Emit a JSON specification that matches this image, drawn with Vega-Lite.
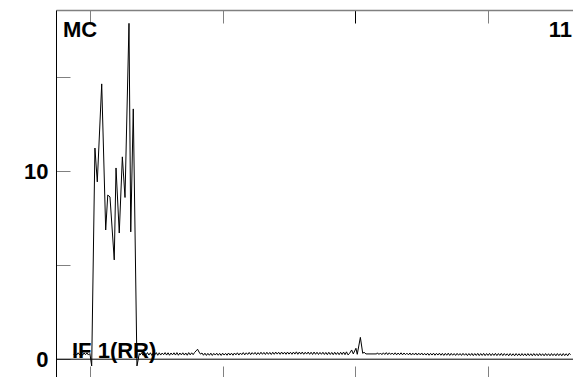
{
  "$schema": "https://vega.github.io/schema/vega-lite/v6.json",
  "autosize": {"type": "none"},
  "padding": {"left": 56, "top": 10, "right": 0, "bottom": 0},
  "width": 517,
  "height": 367,
  "config": {
    "view": {"stroke": null},
    "font": "Liberation Sans",
    "axis": {"labelFont": "Liberation Sans", "grid": false, "title": null}
  },
  "datasets": {
    "signal": [
      {"x":12,"y":0.25},{"x":13,"y":0.33},{"x":14,"y":0.22},{"x":15,"y":0.34},{"x":16,"y":0.23},{"x":17,"y":0.35},{"x":18,"y":0.21},{"x":19,"y":0.33},{"x":20,"y":0.24},{"x":21,"y":0.34},{"x":22,"y":0.22},{"x":23,"y":0.3},
      {"x":24.2,"y":-0.36},{"x":26.4,"y":11.23},{"x":28,"y":9.43},{"x":31,"y":14.64},{"x":33.7,"y":6.87},{"x":35.1,"y":8.73},{"x":36.6,"y":8.63},{"x":39.5,"y":5.28},{"x":40.7,"y":10.17},{"x":42.9,"y":6.71},{"x":45,"y":10.76},{"x":46.8,"y":8.6},{"x":49.5,"y":17.86},{"x":50.7,"y":6.77},{"x":52.4,"y":13.31},{"x":54.9,"y":-0.36},{"x":56.5,"y":0.3},
      {"x":57,"y":0.22},{"x":58,"y":0.34},{"x":59,"y":0.21},{"x":60,"y":0.33},{"x":61,"y":0.23},{"x":62,"y":0.35},{"x":63,"y":0.22},{"x":64,"y":0.34},{"x":65,"y":0.2},{"x":66,"y":0.33},{"x":67,"y":0.23},{"x":68,"y":0.35},{"x":69,"y":0.21},{"x":70,"y":0.34},{"x":71,"y":0.22},{"x":72,"y":0.33},{"x":73,"y":0.24},{"x":74,"y":0.35},{"x":75,"y":0.22},{"x":76,"y":0.34},{"x":77,"y":0.21},{"x":78,"y":0.33},{"x":79,"y":0.23},{"x":80,"y":0.34},{"x":81,"y":0.22},{"x":82,"y":0.35},{"x":83,"y":0.21},{"x":84,"y":0.33},{"x":85,"y":0.23},{"x":86,"y":0.34},{"x":87,"y":0.22},{"x":88,"y":0.33},{"x":89,"y":0.21},{"x":90,"y":0.35},{"x":91,"y":0.23},{"x":92,"y":0.34},{"x":93,"y":0.24},{"x":94,"y":0.36},{"x":95,"y":0.44},{"x":96,"y":0.53},{"x":97,"y":0.38},{"x":98,"y":0.27},{"x":99,"y":0.33},
      {"x":100,"y":0.21},{"x":101,"y":0.32},{"x":102,"y":0.2},{"x":103,"y":0.31},{"x":104,"y":0.21},{"x":105,"y":0.32},{"x":106,"y":0.2},{"x":107,"y":0.31},{"x":108,"y":0.22},{"x":109,"y":0.32},{"x":110,"y":0.21},{"x":111,"y":0.31},{"x":112,"y":0.2},{"x":113,"y":0.32},{"x":114,"y":0.22},{"x":115,"y":0.31},{"x":116,"y":0.21},{"x":117,"y":0.33},{"x":118,"y":0.22},{"x":119,"y":0.32},{"x":120,"y":0.21},{"x":121,"y":0.33},{"x":122,"y":0.23},{"x":123,"y":0.34},{"x":124,"y":0.22},{"x":125,"y":0.33},{"x":126,"y":0.24},{"x":127,"y":0.35},{"x":128,"y":0.23},{"x":129,"y":0.34},{"x":130,"y":0.25},{"x":131,"y":0.36},{"x":132,"y":0.24},{"x":133,"y":0.35},{"x":134,"y":0.26},{"x":135,"y":0.36},{"x":136,"y":0.24},{"x":137,"y":0.35},{"x":138,"y":0.25},{"x":139,"y":0.37},{"x":140,"y":0.26},{"x":141,"y":0.36},{"x":142,"y":0.25},{"x":143,"y":0.37},{"x":144,"y":0.26},{"x":145,"y":0.36},{"x":146,"y":0.25},{"x":147,"y":0.37},{"x":148,"y":0.26},{"x":149,"y":0.38},
      {"x":150,"y":0.27},{"x":151,"y":0.37},{"x":152,"y":0.26},{"x":153,"y":0.38},{"x":154,"y":0.27},{"x":155,"y":0.37},{"x":156,"y":0.26},{"x":157,"y":0.38},{"x":158,"y":0.27},{"x":159,"y":0.37},{"x":160,"y":0.26},{"x":161,"y":0.38},{"x":162,"y":0.27},{"x":163,"y":0.39},{"x":164,"y":0.26},{"x":165,"y":0.38},{"x":166,"y":0.27},{"x":167,"y":0.38},{"x":168,"y":0.26},{"x":169,"y":0.37},{"x":170,"y":0.27},{"x":171,"y":0.38},{"x":172,"y":0.26},{"x":173,"y":0.37},{"x":174,"y":0.25},{"x":175,"y":0.38},{"x":176,"y":0.26},{"x":177,"y":0.37},{"x":178,"y":0.25},{"x":179,"y":0.36},{"x":180,"y":0.26},{"x":181,"y":0.37},{"x":182,"y":0.25},{"x":183,"y":0.36},{"x":184,"y":0.24},{"x":185,"y":0.37},{"x":186,"y":0.25},{"x":187,"y":0.36},{"x":188,"y":0.24},{"x":189,"y":0.37},{"x":190,"y":0.25},{"x":191,"y":0.36},{"x":192,"y":0.24},{"x":193,"y":0.37},{"x":194,"y":0.25},{"x":195,"y":0.38},{"x":196,"y":0.24},{"x":197,"y":0.39},{"x":198,"y":0.23},{"x":199,"y":0.3},
      {"x":200.5,"y":0.49},{"x":201.6,"y":0.28},{"x":203.4,"y":0.58},{"x":204.3,"y":0.26},{"x":206.4,"y":1.16},{"x":208,"y":0.31},{"x":208.9,"y":0.37},{"x":210.2,"y":0.28},{"x":217.5,"y":0.28},
      {"x":218,"y":0.34},{"x":219,"y":0.25},{"x":220,"y":0.33},{"x":221,"y":0.24},{"x":222,"y":0.34},{"x":223,"y":0.25},{"x":224,"y":0.35},{"x":225,"y":0.24},{"x":226,"y":0.34},{"x":227,"y":0.25},{"x":228,"y":0.33},{"x":229,"y":0.24},{"x":230,"y":0.34},{"x":231,"y":0.23},{"x":232,"y":0.33},{"x":233,"y":0.24},{"x":234,"y":0.34},{"x":235,"y":0.23},{"x":236,"y":0.33},{"x":237,"y":0.24},{"x":238,"y":0.32},{"x":239,"y":0.23},{"x":240,"y":0.33},{"x":241,"y":0.22},{"x":242,"y":0.32},{"x":243,"y":0.23},{"x":244,"y":0.33},{"x":245,"y":0.22},{"x":246,"y":0.32},{"x":247,"y":0.23},{"x":248,"y":0.33},{"x":249,"y":0.22},
      {"x":250,"y":0.31},{"x":251,"y":0.22},{"x":252,"y":0.32},{"x":253,"y":0.21},{"x":254,"y":0.31},{"x":255,"y":0.22},{"x":256,"y":0.32},{"x":257,"y":0.21},{"x":258,"y":0.31},{"x":259,"y":0.22},{"x":260,"y":0.32},{"x":261,"y":0.21},{"x":262,"y":0.31},{"x":263,"y":0.2},{"x":264,"y":0.31},{"x":265,"y":0.21},{"x":266,"y":0.32},{"x":267,"y":0.2},{"x":268,"y":0.31},{"x":269,"y":0.21},{"x":270,"y":0.3},{"x":271,"y":0.2},{"x":272,"y":0.31},{"x":273,"y":0.21},{"x":274,"y":0.3},{"x":275,"y":0.2},{"x":276,"y":0.31},{"x":277,"y":0.21},{"x":278,"y":0.3},{"x":279,"y":0.19},{"x":280,"y":0.3},{"x":281,"y":0.2},{"x":282,"y":0.31},{"x":283,"y":0.19},{"x":284,"y":0.3},{"x":285,"y":0.2},{"x":286,"y":0.31},{"x":287,"y":0.19},{"x":288,"y":0.3},{"x":289,"y":0.2},{"x":290,"y":0.31},{"x":291,"y":0.19},{"x":292,"y":0.3},{"x":293,"y":0.2},{"x":294,"y":0.31},{"x":295,"y":0.19},{"x":296,"y":0.3},{"x":297,"y":0.2},{"x":298,"y":0.31},{"x":299,"y":0.19},
      {"x":300,"y":0.3},{"x":301,"y":0.2},{"x":302,"y":0.31},{"x":303,"y":0.19},{"x":304,"y":0.3},{"x":305,"y":0.2},{"x":306,"y":0.29},{"x":307,"y":0.18},{"x":308,"y":0.3},{"x":309,"y":0.19},{"x":310,"y":0.29},{"x":311,"y":0.18},{"x":312,"y":0.3},{"x":313,"y":0.19},{"x":314,"y":0.29},{"x":315,"y":0.18},{"x":316,"y":0.3},{"x":317,"y":0.19},{"x":318,"y":0.29},{"x":319,"y":0.18},{"x":320,"y":0.3},{"x":321,"y":0.19},{"x":322,"y":0.29},{"x":323,"y":0.18},{"x":324,"y":0.3},{"x":325,"y":0.19},{"x":326,"y":0.29},{"x":327,"y":0.18},{"x":328,"y":0.3},{"x":329,"y":0.19},{"x":330,"y":0.29},{"x":331,"y":0.18},{"x":332,"y":0.3},{"x":333,"y":0.19},{"x":334,"y":0.29},{"x":335,"y":0.18},{"x":336,"y":0.3},{"x":337,"y":0.19},{"x":338,"y":0.29},{"x":339,"y":0.18},{"x":340,"y":0.3},{"x":341,"y":0.19},{"x":342,"y":0.29},{"x":343,"y":0.18},{"x":344,"y":0.3},{"x":345,"y":0.19},{"x":346,"y":0.29},{"x":347,"y":0.18},{"x":348,"y":0.31},{"x":349,"y":0.24}
    ],
    "leftLabels": [
      {"x":4.75,"y":17.14,"text":"MC"},
      {"x":10.85,"y":0.05,"text":"IF 1(RR)"}
    ],
    "rightLabels": [
      {"x":349.9,"y":17.14,"text":"11"}
    ],
    "zero": [{"y":0}]
  },
  "resolve": {"axis": {"x": "independent"}},
  "layer": [
    {
      "data": {"name": "signal"},
      "mark": {"type": "line", "color": "black", "strokeWidth": 1, "interpolate": "linear"},
      "encoding": {
        "x": {"field": "x", "type": "quantitative",
              "scale": {"domain": [0, 350.6], "nice": false, "zero": false},
              "axis": {"orient": "bottom", "values": [23, 113, 203, 293], "labels": false, "domain": false,
                       "tickSize": -11, "tickColor": "#808080", "tickWidth": 1}},
        "y": {"field": "y", "type": "quantitative",
              "scale": {"domain": [-0.947, 18.57], "nice": false, "zero": false},
              "axis": {"orient": "left", "values": [0, 5, 10, 15],
                       "labelExpr": "datum.value % 10 === 0 ? datum.label : ''",
                       "domainColor": "black", "domainWidth": 1,
                       "tickSize": -14, "tickColor": "#808080", "tickWidth": 1,
                       "labelFontSize": 22, "labelFontWeight": "bold", "labelColor": "black",
                       "labelPadding": 22}}
      }
    },
    {
      "data": {"name": "zero"},
      "mark": {"type": "rule", "color": "black", "strokeWidth": 1},
      "encoding": {"y": {"field": "y", "type": "quantitative"}}
    },
    {
      "data": {"name": "leftLabels"},
      "mark": {"type": "text", "fontSize": 22, "fontWeight": "bold", "font": "Liberation Sans", "baseline": "alphabetic", "align": "left", "color": "black"},
      "encoding": {
        "x": {"field": "x", "type": "quantitative",
              "axis": {"orient": "top", "values": [23, 113, 203, 293], "labels": false,
                       "domainColor": "#808080", "domainWidth": 1.5,
                       "tickSize": -13, "tickWidth": 1,
                       "tickColor": {"condition": {"test": "datum.value === 203", "value": "black"}, "value": "#808080"}}},
        "y": {"field": "y", "type": "quantitative"},
        "text": {"field": "text"}
      }
    },
    {
      "data": {"name": "rightLabels"},
      "mark": {"type": "text", "fontSize": 22, "fontWeight": "bold", "font": "Liberation Sans", "baseline": "alphabetic", "align": "right", "color": "black"},
      "encoding": {
        "x": {"field": "x", "type": "quantitative", "axis": null},
        "y": {"field": "y", "type": "quantitative"},
        "text": {"field": "text"}
      }
    }
  ]
}
